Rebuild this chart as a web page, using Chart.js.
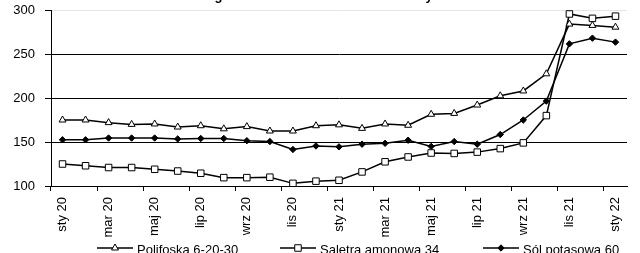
<!DOCTYPE html>
<html><head><meta charset="utf-8">
<script src="https://cdn.jsdelivr.net/npm/chart.js@4/dist/chart.umd.min.js"></script>
<style>html,body{margin:0;padding:0;background:#fff;overflow:hidden}#wrap{width:640px;height:253px;position:relative}</style>
</head><body><div id="wrap"><canvas id="c" width="640" height="253"></canvas></div>
<script>
const months = ['sty 20','lut 20','mar 20','kwi 20','maj 20','cze 20','lip 20','sie 20','wrz 20','paź 20','lis 20','gru 20','sty 21','lut 21','mar 21','kwi 21','maj 21','cze 21','lip 21','sie 21','wrz 21','paź 21','lis 21','gru 21','sty 22'];
const polifoska = [175,175,172,170,170.5,167,168.5,165,167.5,162.5,162.5,168.5,169.5,165.5,170.5,169,181.5,182.5,192,202.5,208,227.5,284,282.5,280.5];
const saletra = [125,123,121,121,119,117,114.5,109.5,109.5,110,103,105.5,106.5,116,127.5,133,137.5,137,138.5,142.5,149,180,295.5,290.5,293];
const sol = [152.5,152.5,154.5,154.5,154.5,153.5,154,154,151.5,150.5,141.5,145.5,144.5,147.5,148.5,152,145,150.5,147.5,158.5,175,196.5,261.5,268,263.5];
const yMin = 100, yMax = 300, yStep = 50;
const seriesNames = ['Polifoska 6-20-30','Saletra amonowa 34','Sól potasowa 60'];
const titleText = 'Przebieg średnich cen nawozów mineralnych';

const FONT = 'Arial, "Liberation Sans", sans-serif';
const styles = [
  {pointStyle:'triangle', radius:4, fill:'#fff'},
  {pointStyle:'rect', radius:4.6, fill:'#fff'},
  {pointStyle:'rectRot', radius:3.2, fill:'#000'}
];
const seriesData = [polifoska, saletra, sol];

function drawMarker(ctx, st, x, y){
  const r = st.radius;
  ctx.beginPath();
  if (st.pointStyle === 'triangle') {
    ctx.moveTo(x, y - r);
    ctx.lineTo(x + r*Math.sqrt(3)/2, y + r/2);
    ctx.lineTo(x - r*Math.sqrt(3)/2, y + r/2);
    ctx.closePath();
  } else if (st.pointStyle === 'rect') {
    const s = r*Math.SQRT1_2;
    ctx.rect(x - s, y - s, 2*s, 2*s);
  } else {
    ctx.moveTo(x, y - r); ctx.lineTo(x + r, y); ctx.lineTo(x, y + r); ctx.lineTo(x - r, y); ctx.closePath();
  }
  ctx.fillStyle = st.fill; ctx.fill();
  ctx.lineWidth = 1; ctx.strokeStyle = '#000'; ctx.stroke();
}

const extras = {
  id: 'extras',
  afterDraw(chart){
    const ctx = chart.ctx;
    ctx.save();
    ctx.fillStyle = '#000';
    ctx.font = 'bold 13px ' + FONT;
    ctx.textAlign = 'center';
    ctx.textBaseline = 'alphabetic';
    ctx.fillText(titleText, 308, -0.5);
    const pos = [97, 280, 483];
    const ly = 248;
    ctx.font = '13px ' + FONT;
    ctx.textAlign = 'left';
    seriesNames.forEach((name, i) => {
      const x = pos[i];
      ctx.beginPath(); ctx.moveTo(x, ly); ctx.lineTo(x + 36, ly);
      ctx.lineWidth = 1.5; ctx.strokeStyle = '#000'; ctx.stroke();
      drawMarker(ctx, styles[i], x + 18, ly);
      ctx.fillStyle = '#000';
      ctx.fillText(name, x + 40, 254);
    });
    ctx.restore();
  }
};

new Chart(document.getElementById('c'), {
  type: 'line',
  data: {
    labels: months,
    datasets: seriesNames.map((n, i) => ({
      label: n,
      data: seriesData[i],
      borderColor: '#000',
      borderWidth: 1.5,
      tension: 0,
      pointStyle: styles[i].pointStyle,
      pointRadius: styles[i].radius,
      pointBackgroundColor: styles[i].fill,
      pointBorderColor: '#000',
      pointBorderWidth: 1
    }))
  },
  options: {
    responsive: false,
    animation: false,
    devicePixelRatio: 1,
    layout: {padding: {top: 10, right: 13, bottom: 0, left: 0}},
    plugins: {legend: {display: false}, title: {display: false}, tooltip: {enabled: false}},
    scales: {
      x: {
        offset: true,
        grid: {
          offset: true, drawOnChartArea: false, drawTicks: true, tickLength: 5,
          tickColor: c => (c.index !== undefined && c.index % 2 === 0) ? '#000' : 'rgba(0,0,0,0)'
        },
        border: {color: '#000', width: 1},
        ticks: {
          autoSkip: false, maxRotation: 90, minRotation: 90, padding: 6, color: '#000',
          font: {family: FONT, size: 13},
          callback: (v, i) => i % 2 === 0 ? months[i] : ''
        },
        afterFit: s => { s.height = 67; s.paddingRight = 0; s.paddingLeft = 0; }
      },
      y: {
        min: yMin, max: yMax,
        grid: {
          color: c => (c.tick && c.tick.value === yMax) ? '#e4e4e4' : '#000',
          tickColor: '#000', tickLength: 6, lineWidth: 1
        },
        border: {color: '#000', width: 1},
        ticks: {stepSize: yStep, color: '#000', padding: 10, font: {family: FONT, size: 13}},
        afterFit: s => { s.width = 51; s.paddingTop = 5; s.paddingBottom = 5; }
      }
    }
  },
  plugins: [extras]
});
</script></body></html>
